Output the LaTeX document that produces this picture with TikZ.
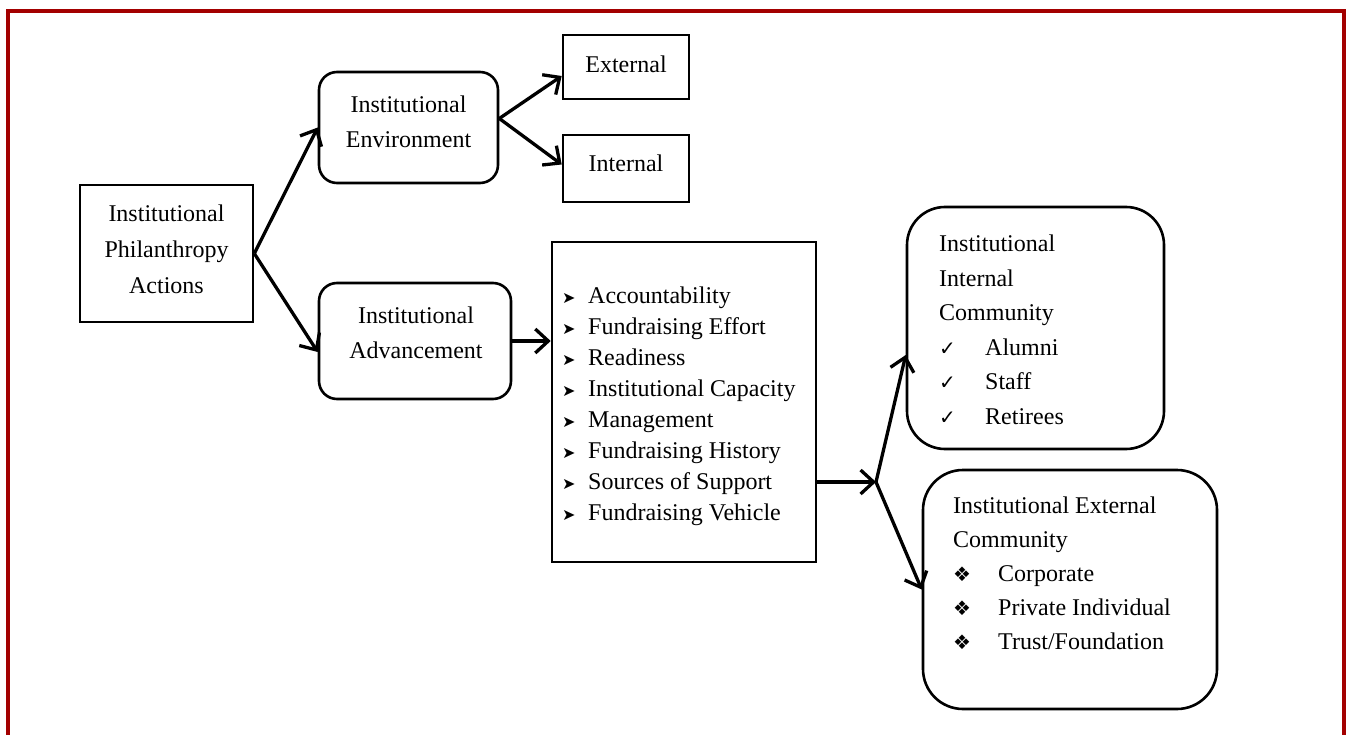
\documentclass[tikz,border=0pt]{standalone}
\usepackage{fontspec}
\setmainfont{Liberation Serif}
\newfontfamily\symfont{DejaVu Sans}
\usetikzlibrary{arrows.meta}

\definecolor{framered}{RGB}{163,0,0}

\tikzset{
  sqbox/.style={draw, line width=2.6pt, inner sep=0pt},
  rdbox/.style={sqbox, rounded corners=#1},
  txt/.style={font=\fontsize{24}{#1}\selectfont, inner sep=0pt},
  arr/.style={line width=3.3pt, -{Straight Barb[length=13pt,width=24pt]}},
}

% list marks
\newcommand{\arrowmark}{\makebox[26pt][l]{\symfont\fontsize{16}{16}\selectfont ➤}}
\newcommand{\tickmark}{\makebox[46pt][l]{\symfont\fontsize{20}{20}\selectfont ✓}}
\newcommand{\diamark}{\makebox[45pt][l]{\symfont\fontsize{20}{20}\selectfont ❖}}

\begin{document}
\begin{tikzpicture}[x=1pt, y=-1pt]
\pgfmathsetmacro{\gap}{31} % spacing of the list lines
\useasboundingbox (0,0) rectangle (1346,735);

% red frame, open at the bottom
\draw[framered, line width=4pt] (8,735) -- (8,11) -- (1344,11) -- (1344,735);

% boxes
\node[sqbox, minimum width=173pt, minimum height=137pt] (phil) at (166.5,253.5) {};
\node[rdbox=18pt, minimum width=179pt, minimum height=111pt] (env) at (408.5,127.5) {};
\node[sqbox, minimum width=126pt, minimum height=64pt] (ext) at (626,67) {};
\node[sqbox, minimum width=126pt, minimum height=67pt] (int) at (626,168.5) {};
\node[rdbox=18pt, minimum width=192pt, minimum height=116pt] (adv) at (415,341) {};
\node[sqbox, minimum width=264pt, minimum height=320pt] (list) at (684,402) {};
\node[rdbox=38pt, minimum width=257pt, minimum height=242pt] (intcom) at (1035.5,328) {};
\node[rdbox=40pt, minimum width=294pt, minimum height=239pt] (extcom) at (1070,589.5) {};

% texts
\node[txt=36, align=center] (philtxt) at (166.5,249) {Institutional\\Philanthropy\\Actions};
\node[txt=35, align=center] (envtxt) at (408.5,121.5) {Institutional\\Environment};
\node[txt=35] (exttxt) at (626,64) {External};
\node[txt=35] (inttxt) at (626,163) {Internal};
\node[txt=35, align=center] (advtxt) at (416,332.5) {Institutional\\Advancement};
\node[txt=\gap, align=left, anchor=west] (listtxt) at (562,406) {%
  \arrowmark Accountability\\
  \arrowmark Fundraising Effort\\
  \arrowmark Readiness\\
  \arrowmark Institutional Capacity\\
  \arrowmark Management\\
  \arrowmark Fundraising History\\
  \arrowmark Sources of Support\\
  \arrowmark Fundraising Vehicle};
\node[txt=34.5, align=left, anchor=west] (intcomtxt) at (939,330) {%
  Institutional\\
  Internal\\
  Community\\
  \tickmark Alumni\\
  \tickmark Staff\\
  \tickmark Retirees};
\node[txt=34, align=left, anchor=west] (extcomtxt) at (953,573) {%
  Institutional External\\
  Community\\
  \diamark Corporate\\
  \diamark Private Individual\\
  \diamark Trust/Foundation};

% arrows
\coordinate (fork) at (876,482);
\draw[arr] (phil.east) -- (env.west);
\draw[arr] (phil.east) -- ([yshift=-11pt]adv.west);
\draw[arr] ([yshift=9pt]env.east) -- ([yshift=-9pt]ext.west);
\draw[arr] ([yshift=9pt]env.east) -- ([yshift=4pt]int.west);
\draw[arr] (adv.east) -- (adv.east -| list.west);
\draw[arr] (fork -| list.east) -- (fork);
\draw[arr] (fork) -- ([yshift=-27pt]intcom.west);
\draw[arr] (fork) -- (extcom.west);
\end{tikzpicture}
\end{document}
